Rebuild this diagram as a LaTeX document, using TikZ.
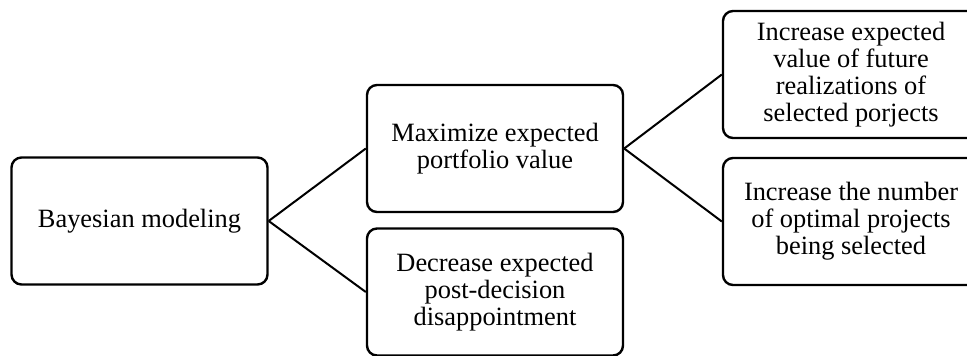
\documentclass[tikz,border=0pt]{standalone}
\usepackage{fontspec}
\setmainfont{Liberation Serif}
\usepackage{tikz}

\tikzset{
    goalbox/.style={draw, line width=1.2pt, rounded corners=5pt, align=center,
        minimum width=128pt, minimum height=63.5pt, inner sep=0pt,
        font=\fontsize{13.2}{13.5}\selectfont},
    link/.style={line width=1pt}
}

\begin{document}
\begin{tikzpicture}[x=.5pt, y=-.5pt]
            \useasboundingbox (0,0) rectangle (967,355);
            \node[goalbox] (bayes) at (139.5,221) {Bayesian modeling};
            \node[goalbox] (maxval) at (495,148.5) {Maximize expected\\portfolio value};
            \node[goalbox] (disap) at (495,292) {Decrease expected\\post-decision\\disappointment};
            \node[goalbox] (futval) at (851,74.5) {Increase expected\\value of future\\realizations of\\selected porjects};
            \node[goalbox] (optsel) at (851,221.5) {Increase the number\\of optimal projects\\being selected};
            \draw[link] (bayes.east) -- (maxval.west);
            \draw[link] (bayes.east) -- (disap.west);
            \draw[link] (maxval.east) -- (futval.west);
            \draw[link] (maxval.east) -- (optsel.west);
        \end{tikzpicture}
\end{document}
